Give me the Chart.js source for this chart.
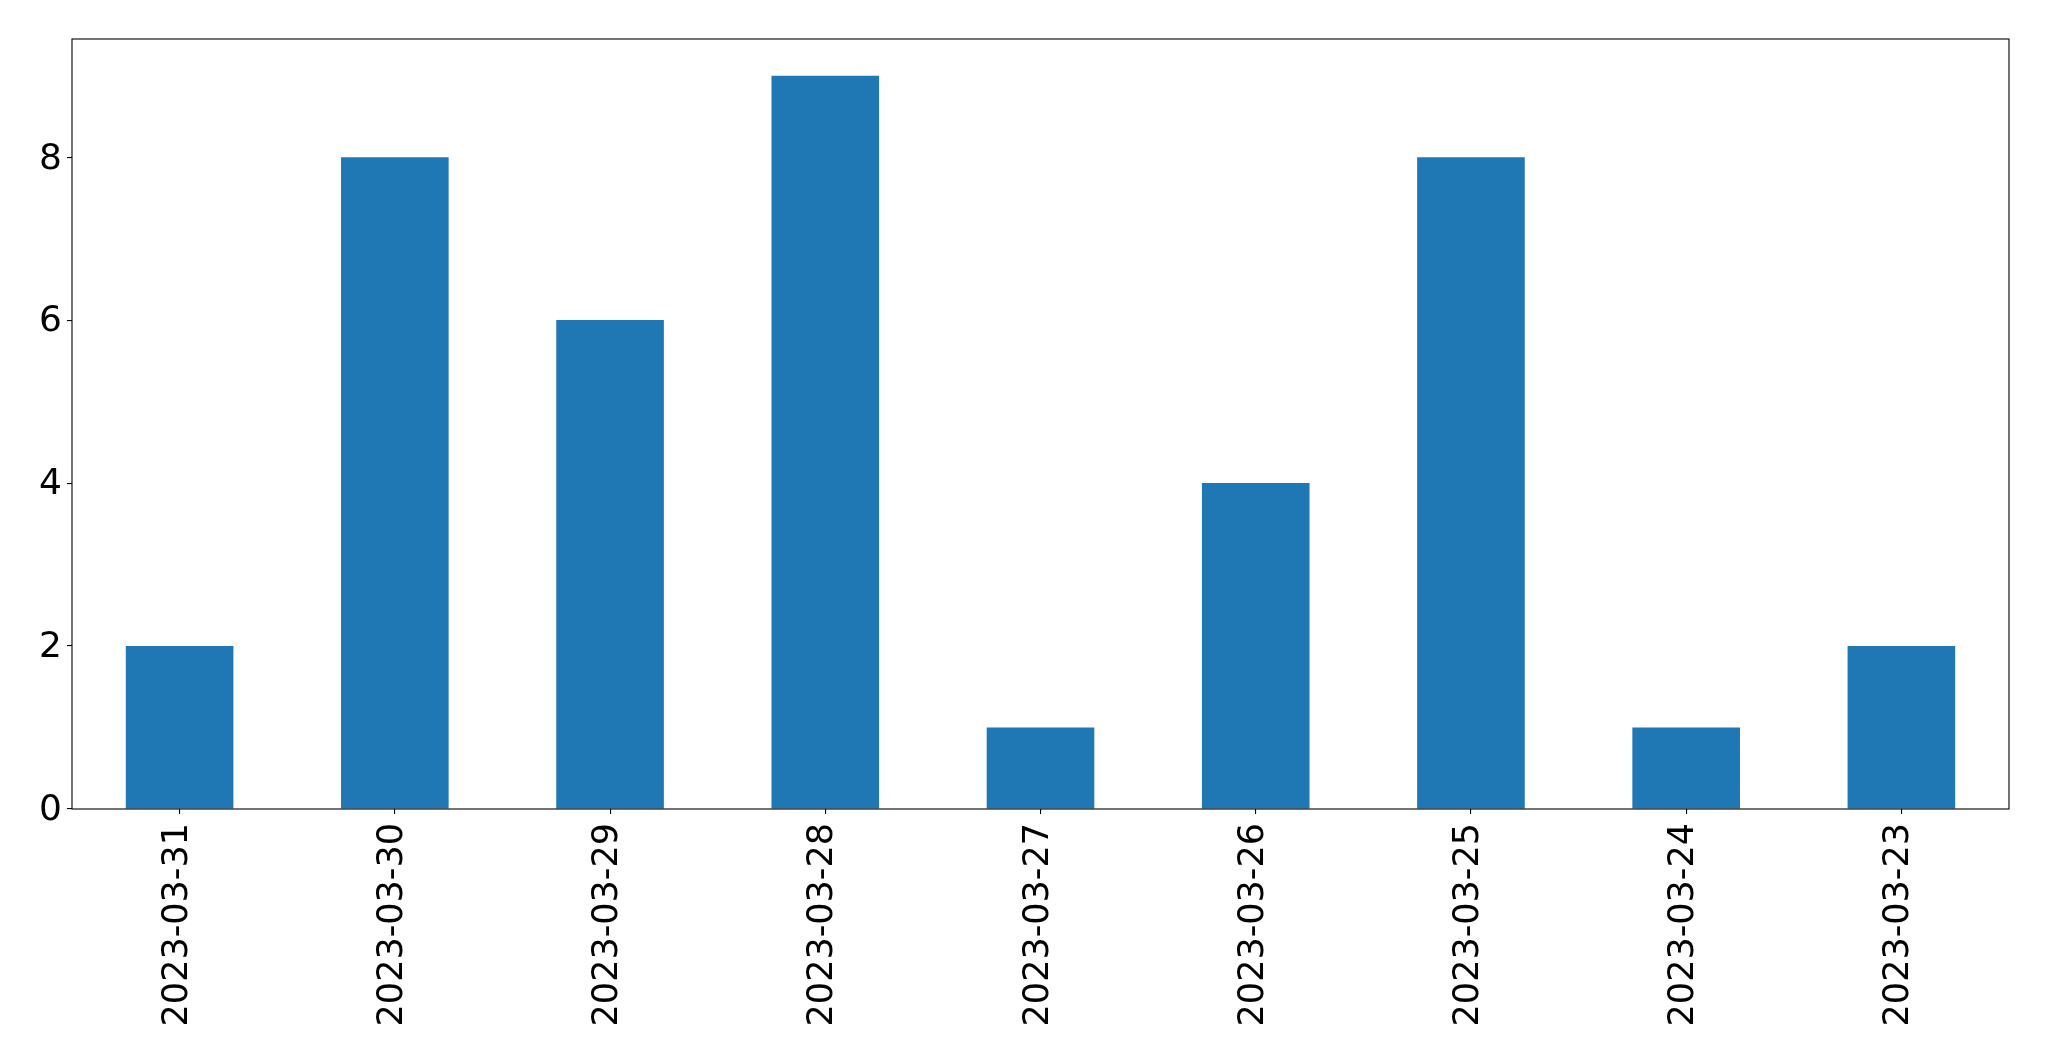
<!DOCTYPE html>
<html>
<head>
<meta charset="utf-8">
<script src="https://cdn.jsdelivr.net/npm/chart.js@4"></script>
<style>
html,body{margin:0;padding:0;background:#fff;}
#wrap{width:2049px;height:1061px;}
</style>
</head>
<body>
<div id="wrap"><canvas id="c" width="2049" height="1061"></canvas></div>
<script>
const categories = ["2023-03-31","2023-03-30","2023-03-29","2023-03-28","2023-03-27","2023-03-26","2023-03-25","2023-03-24","2023-03-23"];
const counts = [2, 8, 6, 9, 1, 4, 8, 1, 2];
const yTicks = [0, 2, 4, 6, 8];
const yMax = 9.45;

const frame = {
  id: 'frame',
  afterDraw(chart) {
    const a = chart.chartArea, ctx = chart.ctx;
    ctx.save();
    ctx.strokeStyle = '#000';
    ctx.lineWidth = 1.1;
    ctx.strokeRect(a.left, a.top, a.right - a.left, a.bottom - a.top);
    ctx.restore();
  }
};

new Chart(document.getElementById('c'), {
  type: 'bar',
  data: {
    labels: categories,
    datasets: [{ data: counts, backgroundColor: '#1f77b4', borderWidth: 0,
      categoryPercentage: 1.0, barPercentage: 0.5 }]
  },
  options: {
    responsive: false,
    animation: false,
    devicePixelRatio: 1,
    layout: { padding: { top: 39, right: 40, left: 0, bottom: 0 } },
    plugins: { legend: { display: false }, tooltip: { enabled: false } },
    scales: {
      x: {
        offset: true,
        grid: { display: true, drawOnChartArea: false, offset: false, tickLength: 5, color: '#000', lineWidth: 1.1 },
        border: { display: false },
        ticks: { color: '#000', minRotation: 90, maxRotation: 90, autoSkip: false, padding: 9, labelOffset: -2,
          font: { family: 'DejaVu Sans', size: 35 } },
        afterFit(s) { s.height = 252; }
      },
      y: {
        min: 0, max: yMax,
        afterBuildTicks(s) { s.ticks = yTicks.map(v => ({ value: v })); },
        grid: { display: true, drawOnChartArea: false, tickLength: 5, color: '#000', lineWidth: 1.1 },
        border: { display: false },
        ticks: { color: '#000', padding: 5, labelOffset: 2, font: { family: 'DejaVu Sans', size: 36 } },
        afterFit(s) { s.width = 72; }
      }
    }
  },
  plugins: [frame]
});
</script>
</body>
</html>
